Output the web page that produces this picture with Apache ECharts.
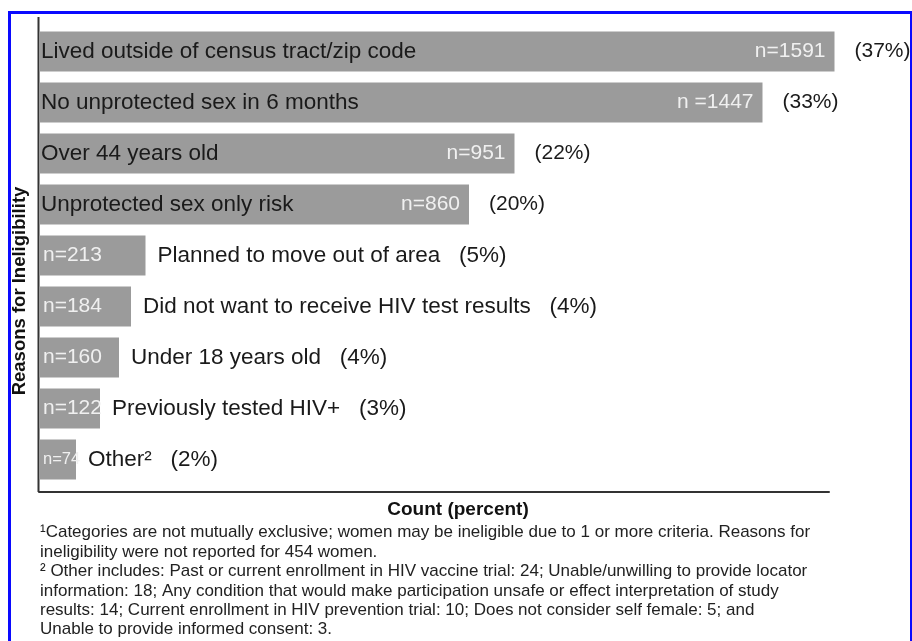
<!DOCTYPE html>
<html>
<head>
<meta charset="utf-8">
<script src="https://cdn.jsdelivr.net/npm/echarts@6/dist/echarts.min.js"></script>
<style>
  html, body { margin: 0; padding: 0; background: #fff; }
  #chart { width: 912px; height: 641px; }
</style>
</head>
<body>
<div id="chart"></div>
<script>
// reasons for ineligibility, top to bottom
const categories = [
  "Lived outside of census tract/zip code",
  "No unprotected sex in 6 months",
  "Over 44 years old",
  "Unprotected sex only risk",
  "Planned to move out of area",
  "Did not want to receive HIV test results",
  "Under 18 years old",
  "Previously tested HIV+",
  "Other\u00B2"
];
const counts = [1591, 1447, 951, 860, 213, 184, 160, 122, 74];
const countLabels = ["n=1591", "n =1447", "n=951", "n=860", "n=213", "n=184", "n=160", "n=122", "n=74"];
const percents = ["(37%)", "(33%)", "(22%)", "(20%)", "(5%)", "(4%)", "(4%)", "(3%)", "(2%)"];

const footnotes = [
  "\u00B9Categories are not mutually exclusive; women may be ineligible due to 1 or more criteria. Reasons for",
  "ineligibility were not reported for 454 women.",
  "\u00B2 Other includes: Past or current enrollment in HIV vaccine trial: 24; Unable/unwilling to provide locator",
  "information: 18; Any condition that would make participation unsafe or effect interpretation of study",
  "results: 14; Current enrollment in HIV prevention trial: 10; Does not consider self female: 5; and",
  "Unable to provide informed consent: 3."
];

const FONT = "Liberation Sans, Arial, sans-serif";
const gridTop = 26, gridH = 459, gridLeft = 39, gridW = 790;

const chart = echarts.init(document.getElementById("chart"));

// long bars carry their name inside; short ones put it after the bar
const isLong = v => v >= 500;

const barData = counts.map((v, i) => ({
  value: v,
  label: {
    show: true,
    position: isLong(v) ? "insideRight" : "insideLeft",
    distance: isLong(v) ? 9 : 4,
    formatter: countLabels[i],
    overflow: "none",
    color: "#f0f0f0",
    // the tiniest bar squeezes its count in
    fontSize: v < 100 ? 16.5 : 21,
    fontFamily: FONT
  }
}));

const nameData = counts.map((v, i) => ({
  value: v,
  label: isLong(v)
    ? { show: true, position: "insideLeft", distance: 2, formatter: categories[i], overflow: "none" }
    : { show: true, position: "right", distance: 12, formatter: categories[i] + "   " + percents[i] }
}));

const pctData = counts.map((v, i) => ({
  value: v,
  label: isLong(v)
    ? { show: true, position: "right", distance: 20, formatter: percents[i] }
    : { show: false }
}));

const overlay = {
  type: "bar",
  barWidth: 40,
  barGap: "-100%",
  silent: true,
  clip: false,
  itemStyle: { color: "rgba(0,0,0,0)" },
  label: { color: "#1a1a1a", fontSize: 22.5, fontFamily: FONT }
};

const options = {
  animation: false,
  grid: { left: gridLeft, top: gridTop, width: gridW, height: gridH },
  xAxis: {
    type: "value",
    min: 0,
    max: 1580,
    offset: 7,
    axisLine: { show: true, lineStyle: { color: "#333", width: 2 } },
    axisTick: { show: false },
    axisLabel: { show: false },
    splitLine: { show: false }
  },
  yAxis: {
    type: "category",
    inverse: true,
    data: categories,
    axisLine: { show: false },
    axisTick: { show: false },
    axisLabel: { show: false }
  },
  series: [
    {
      type: "bar",
      barWidth: 40,
      clip: false,
      itemStyle: { color: "#9b9b9b" },
      data: barData
    },
    Object.assign({}, overlay, { data: nameData }),
    Object.assign({}, overlay, { data: pctData, label: { color: "#1a1a1a", fontSize: 21, fontFamily: FONT } })
  ],
  graphic: [
    // blue frame round the figure
    {
      type: "rect",
      shape: { x: 9.5, y: 12.5, width: 902, height: 700 },
      style: { fill: null, stroke: "#0a0aff", lineWidth: 3 }
    },
    // vertical axis line, taller than the category band
    {
      type: "line",
      shape: { x1: 38.5, y1: 17, x2: 38.5, y2: gridTop + gridH + 7 },
      style: { stroke: "#333", lineWidth: 2 }
    },
    {
      type: "text",
      x: 20,
      y: 291,
      rotation: Math.PI / 2,
      style: {
        text: "Reasons for Ineligibility",
        font: "bold 18.5px " + FONT,
        fill: "#111",
        align: "center",
        verticalAlign: "middle"
      }
    },
    {
      type: "text",
      x: 458,
      y: 510,
      style: {
        text: "Count (percent)",
        font: "bold 19px " + FONT,
        fill: "#111",
        align: "center",
        verticalAlign: "middle"
      }
    },
    {
      type: "text",
      x: 40,
      y: 523,
      style: {
        text: footnotes.join("\n"),
        font: "17px " + FONT,
        lineHeight: 19.4,
        fill: "#222",
        align: "left",
        verticalAlign: "top"
      }
    }
  ]
};

chart.setOption(options);
</script>
</body>
</html>
